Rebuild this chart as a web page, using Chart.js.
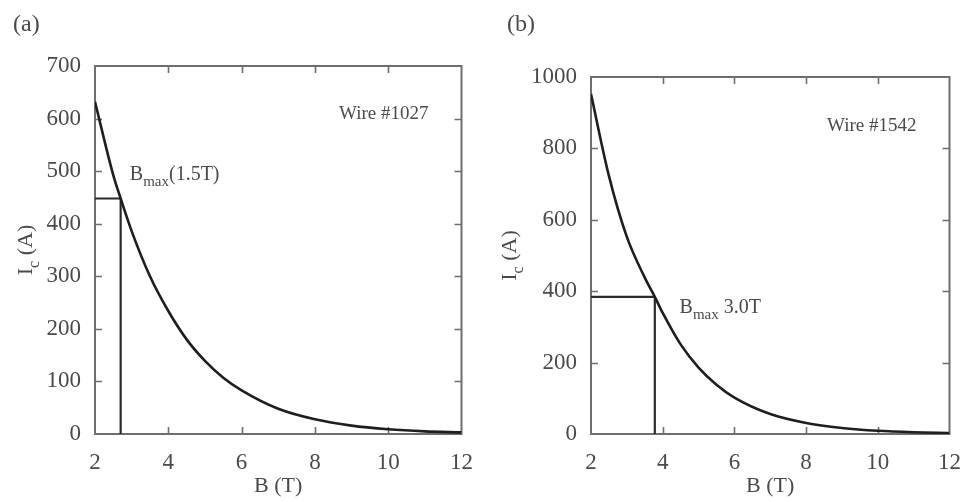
<!DOCTYPE html>
<html><head><meta charset="utf-8">
<script src="https://cdn.jsdelivr.net/npm/chart.js@4"></script>
<style>
html,body{margin:0;padding:0;background:#fff;width:968px;height:502px;overflow:hidden}
.panel{position:absolute;top:0;height:502px}
#pa{left:0;width:480px}
#pb{left:480px;width:488px}
</style></head><body>
<div class="panel" id="pa"><canvas id="ca"></canvas></div>
<div class="panel" id="pb"><canvas id="cb"></canvas></div>
<script>
// ---- data ----
const xTickValues = [2, 4, 6, 8, 10, 12];
const yTickValuesA = [0, 100, 200, 300, 400, 500, 600, 700];
const yTickValuesB = [0, 200, 400, 600, 800, 1000];

const fieldA   = [2.0, 2.5, 2.7, 3.0, 3.5, 4.0, 4.5, 5.0, 5.5, 6.0, 7.0, 8.0, 9.0, 10.0, 11.0, 12.0];
const currentA = [632, 492, 448, 386, 300, 234, 180, 139, 107, 83, 48, 28, 16, 9, 5, 3];

const fieldB   = [2.0, 2.5, 3.0, 3.5, 3.78, 4.0, 4.5, 5.0, 5.5, 6.0, 7.0, 8.0, 9.0, 10.0, 11.0, 12.0];
const currentB = [952, 723, 552, 438, 384, 339, 251, 186, 138, 102, 56, 31, 17, 9, 5, 3];

const bmaxFieldA = 2.70, bmaxCurrentA = 448;
const bmaxFieldB = 3.78, bmaxCurrentB = 384;

const panelLabels = ['(a)', '(b)'];
const wireLabels = ['Wire #1027', 'Wire #1542'];
const bmaxTexts = [['B', 'max', '(1.5T)'], ['B', 'max', ' 3.0T']];
const xTitle = 'B (T)';
const yTitleParts = ['I', 'c', ' (A)'];

// ---- drawing helpers ----
const SERIF = '"Liberation Serif", "Times New Roman", serif';
const TEXT = '#4a4a4a';

function drawSubText(ctx, parts, x, y, size, subSize, align) {
  ctx.save();
  ctx.textBaseline = 'middle';
  ctx.textAlign = 'left';
  const f1 = size + 'px ' + SERIF, f2 = subSize + 'px ' + SERIF;
  ctx.font = f1; const w0 = ctx.measureText(parts[0]).width;
  ctx.font = f2; const w1 = ctx.measureText(parts[1]).width;
  ctx.font = f1; const w2 = ctx.measureText(parts[2]).width;
  const total = w0 + w1 + w2;
  const sx = align === 'center' ? x - total / 2 : x;
  ctx.fillStyle = TEXT;
  ctx.font = f1; ctx.fillText(parts[0], sx, y);
  ctx.font = f2; ctx.fillText(parts[1], sx + w0, y + size * 0.38);
  ctx.font = f1; ctx.fillText(parts[2], sx + w0 + w1, y);
  ctx.restore();
}

const decoPlugin = {
  id: 'deco',
  beforeDatasetsDraw(chart, args, opts) {
    const ctx = chart.ctx, a = chart.chartArea;
    const xs = chart.scales.x, ys = chart.scales.y;
    ctx.save();
    ctx.strokeStyle = '#6e6e6e';
    ctx.lineWidth = 2;
    ctx.strokeRect(a.left, a.top, a.right - a.left, a.bottom - a.top);
    ctx.lineWidth = 1.6;
    const L = 7;
    ctx.beginPath();
    xs.ticks.forEach(t => {
      if (t.value <= xs.min || t.value >= xs.max) return;
      const px = Math.round(xs.getPixelForValue(t.value)) + 0.5;
      ctx.moveTo(px, a.bottom); ctx.lineTo(px, a.bottom - L);
      ctx.moveTo(px, a.top); ctx.lineTo(px, a.top + L);
    });
    ys.ticks.forEach(t => {
      if (t.value <= ys.min || t.value >= ys.max) return;
      const py = Math.round(ys.getPixelForValue(t.value)) + 0.5;
      ctx.moveTo(a.left, py); ctx.lineTo(a.left + L, py);
      ctx.moveTo(a.right, py); ctx.lineTo(a.right - L, py);
    });
    ctx.stroke();
    ctx.restore();
  },
  afterDraw(chart, args, opts) {
    const ctx = chart.ctx, a = chart.chartArea;
    const xs = chart.scales.x, ys = chart.scales.y;
    ctx.save();
    ctx.fillStyle = TEXT;
    ctx.font = '24px ' + SERIF;
    ctx.textBaseline = 'middle';
    ctx.textAlign = 'left';
    ctx.fillText(opts.panel, opts.panelX, 25);
    ctx.font = '19px ' + SERIF;
    ctx.textAlign = 'right';
    ctx.fillText(opts.wire, xs.getPixelForValue(opts.wireAt[0]), ys.getPixelForValue(opts.wireAt[1]));
    ctx.restore();
    drawSubText(ctx, opts.bmax, xs.getPixelForValue(opts.bmaxAt[0]), ys.getPixelForValue(opts.bmaxAt[1]), 20, 15, 'left');
    ctx.save();
    ctx.translate(opts.yTitleX, (a.top + a.bottom) / 2);
    ctx.rotate(-Math.PI / 2);
    drawSubText(ctx, yTitleParts, 0, 0, 22, 16, 'center');
    ctx.restore();
  }
};

function makeChart(id, field, current, bx, by, yTicks, yMax, yWidth, pad, deco) {
  const curve = field.map((b, i) => ({ x: b, y: current[i] }));
  const hLine = [{ x: xTickValues[0], y: by }, { x: bx, y: by }];
  const vLine = [{ x: bx, y: 0 }, { x: bx, y: by }];
  return new Chart(document.getElementById(id), {
    type: 'scatter',
    data: {
      datasets: [
        { data: curve, showLine: true, borderColor: '#1e1e1e', borderWidth: 2.6, pointRadius: 0, cubicInterpolationMode: 'monotone', fill: false },
        { data: hLine, showLine: true, borderColor: '#2a2a2a', borderWidth: 2.2, pointRadius: 0 },
        { data: vLine, showLine: true, borderColor: '#2a2a2a', borderWidth: 2.2, pointRadius: 0 }
      ]
    },
    options: {
      responsive: true,
      maintainAspectRatio: false,
      animation: false,
      events: [],
      layout: { padding: pad },
      plugins: { legend: { display: false }, tooltip: { enabled: false }, deco: deco },
      scales: {
        x: {
          type: 'linear', min: 2, max: 12,
          afterBuildTicks(s) { s.ticks = xTickValues.map(v => ({ value: v })); },
          afterFit(s) { s.height = 68; },
          grid: { display: false },
          border: { display: false },
          ticks: { padding: 7, color: TEXT, font: { family: SERIF, size: 23 }, maxRotation: 0, callback: v => String(v) },
          title: { display: true, text: xTitle, color: TEXT, font: { family: SERIF, size: 22 }, padding: { top: 0, bottom: 3 } }
        },
        y: {
          type: 'linear', min: 0, max: yMax,
          afterBuildTicks(s) { s.ticks = yTicks.map(v => ({ value: v })); },
          afterFit(s) { s.width = yWidth; },
          grid: { display: false },
          border: { display: false },
          ticks: { padding: 6, color: TEXT, font: { family: SERIF, size: 23 }, callback: v => String(v) }
        }
      }
    },
    plugins: [decoPlugin]
  });
}

makeChart('ca', fieldA, currentA, bmaxFieldA, bmaxCurrentA, yTickValuesA, 700, 95,
  { left: 0, right: 16, top: 66, bottom: 0 },
  { panel: panelLabels[0], panelX: 13, wire: wireLabels[0], wireAt: [11.1, 608], bmax: bmaxTexts[0], bmaxAt: [2.95, 493], yTitleX: 26 });

makeChart('cb', fieldB, currentB, bmaxFieldB, bmaxCurrentB, yTickValuesB, 1000, 111,
  { left: 0, right: 17, top: 77, bottom: 0 },
  { panel: panelLabels[1], panelX: 27, wire: wireLabels[1], wireAt: [11.08, 863], bmax: bmaxTexts[1], bmaxAt: [4.47, 355], yTitleX: 30 });
</script>
</body></html>
